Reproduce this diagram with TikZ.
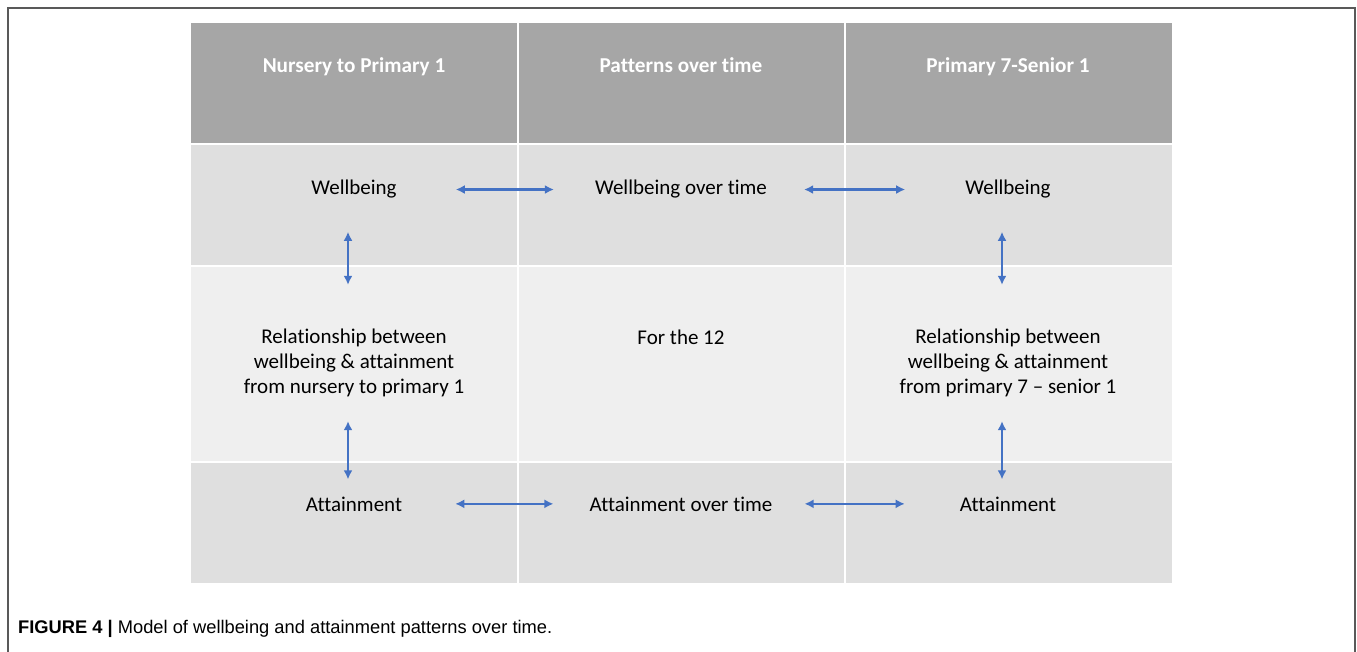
\documentclass[tikz,border=0pt]{standalone}
\usepackage{fontspec}
\setmainfont{Carlito}[Ligatures=NoCommon]
\newfontfamily\capfont{Liberation Sans}
\usetikzlibrary{arrows.meta}
\tikzset{>={Latex[width=9pt,length=9pt]}}
\definecolor{headgray}{HTML}{A6A6A6}
\definecolor{darkrow}{HTML}{DFDFDF}
\definecolor{lightrow}{HTML}{EFEFEF}
\definecolor{arrblue}{HTML}{4472C4}

\begin{document}
\begin{tikzpicture}[x=1pt,y=-1pt,
  cell/.style={font=\fontsize{21}{25}\selectfont, align=center, inner sep=0pt},
  head/.style={font=\fontsize{21.2}{25}\selectfont\bfseries, text=white, inner sep=0pt},
  link/.style={arrblue, line width=2.3pt, <->}]

  \useasboundingbox (0,0) rectangle (1357,652);

  \draw[line width=1.5pt, black!65] (8,670) -- (8,8) -- (1355,8) -- (1355,670);

  \fill[headgray] (191,23) rectangle (1172,144);
  \fill[darkrow] (191,144) rectangle (1172,266);
  \fill[lightrow] (191,266) rectangle (1172,462);
  \fill[darkrow] (191,462) rectangle (1172,583);
  \foreach \y in {144,266,462}
    \draw[white, line width=2.5pt] (191,\y) -- (1172,\y);
  \foreach \x in {518,845}
    \draw[white, line width=2pt] (\x,23) -- (\x,583);

  \node[head, anchor=base] (h1) at (354,73) {Nursery to Primary 1};
  \node[head, anchor=base] (h2) at (681,73) {Patterns over time};
  \node[head, anchor=base] (h3) at (1008,73) {Primary 7-Senior 1};

  \node[cell, anchor=base] (wb1) at (354,195) {Wellbeing};
  \node[cell, anchor=base] (wbt) at (681,195) {Wellbeing over time};
  \node[cell, anchor=base] (wb3) at (1008,195) {Wellbeing};

  \node[cell] (rel1) at (354,363) {Relationship between\\wellbeing \& attainment\\from nursery to primary 1};
  \node[cell, anchor=base] (f12) at (681,344) {For the 12};
  \node[cell] (rel3) at (1008,363) {Relationship between\\wellbeing \& attainment\\from primary 7 -- senior 1};

  \node[cell, anchor=base] (at1) at (354,511) {Attainment};
  \node[cell, anchor=base] (att) at (681,511) {Attainment over time};
  \node[cell, anchor=base] (at3) at (1008,511) {Attainment};

  \draw[link, shorten <=59pt, shorten >=41pt] (wb1.east) -- (wbt.west);
  \draw[link, shorten <=37pt, shorten >=60pt] (wbt.east) -- (wb3.west);
  \draw[link, shorten <=53pt, shorten >=36pt] (at1.east) -- (att.west);
  \draw[link, shorten <=32pt, shorten >=55pt] (att.east) -- (at3.west);

  \draw[link, shorten <=33pt, shorten >=44pt] ([xshift=-6pt]wb1.south) -- ([xshift=-6pt]rel1.north);
  \draw[link, shorten <=24pt, shorten >=17pt] ([xshift=-6pt]rel1.south) -- ([xshift=-6pt]at1.north);
  \draw[link, shorten <=33pt, shorten >=44pt] ([xshift=-6pt]wb3.south) -- ([xshift=-6pt]rel3.north);
  \draw[link, shorten <=24pt, shorten >=17pt] ([xshift=-6pt]rel3.south) -- ([xshift=-6pt]at3.north);

  \node[anchor=base west, inner sep=0pt, font=\capfont\fontsize{18.3}{22}\selectfont] (cap) at (18,633)
    {\textbf{FIGURE 4 |} Model of wellbeing and attainment patterns over time.};

\end{tikzpicture}
\end{document}
